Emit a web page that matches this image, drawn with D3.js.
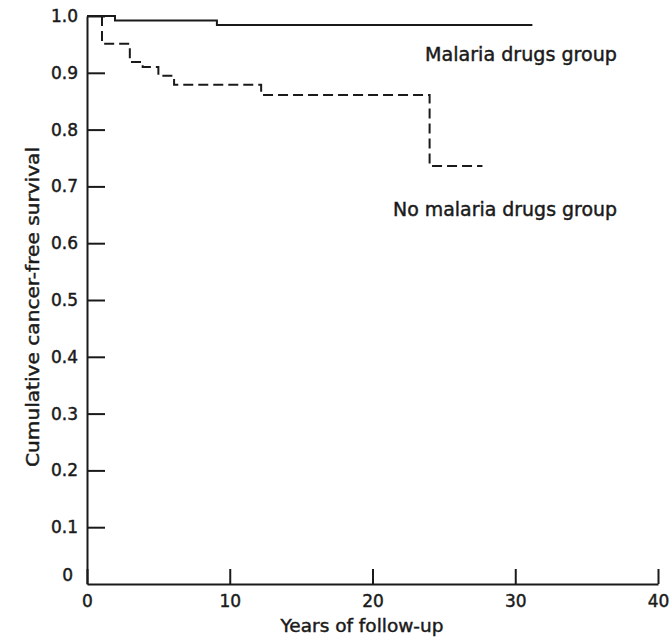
<!DOCTYPE html>
<html>
<head>
<meta charset="utf-8">
<script src="https://cdn.jsdelivr.net/npm/d3@7"></script>
<style>
  html, body { margin: 0; padding: 0; background: #fff; }
  svg { display: block; }
  text { font-family: "DejaVu Sans", "Liberation Sans", sans-serif; fill: #1a1a1a; stroke: #1a1a1a; stroke-width: 0.45px; }
</style>
</head>
<body>
<svg id="chart" width="671" height="639"></svg>
<script>
// Kaplan-Meier style step curves: time in years, cumulative cancer-free survival
const malariaYears = [0, 1.96, 9.1, 31.2];
const malariaSurvival = [1.0, 0.992, 0.984, 0.984];

const noMalariaYears = [0, 1.05, 3.0, 3.9, 5.0, 6.1, 12.2, 24.0, 27.7];
const noMalariaSurvival = [1.0, 0.951, 0.919, 0.910, 0.895, 0.879, 0.861, 0.736, 0.736];

const xTicks = [0, 10, 20, 30, 40];
const yTicks = [0, 0.1, 0.2, 0.3, 0.4, 0.5, 0.6, 0.7, 0.8, 0.9, 1.0];
const yTickLabels = ["0", "0.1", "0.2", "0.3", "0.4", "0.5", "0.6", "0.7", "0.8", "0.9", "1.0"];

const groupLabels = ["Malaria drugs group", "No malaria drugs group"];

const svg = d3.select("#chart");
const x = d3.scaleLinear().domain([0, 40]).range([87, 658]);
const y = d3.scaleLinear().domain([0, 1]).range([584, 16]);

const ink = "#1a1a1a";

// x axis with inward ticks
const xAxis = svg.append("g")
  .attr("transform", `translate(0,${y(0)})`)
  .call(d3.axisBottom(x).tickValues(xTicks).tickSize(-15).tickSizeOuter(0).tickPadding(11)
    .tickFormat(d3.format("d")));
xAxis.selectAll("text").style("font-size", "17px");

// y axis with inward ticks
const yAxis = svg.append("g")
  .attr("transform", `translate(${x(0)},0)`)
  .call(d3.axisLeft(y).tickValues(yTicks).tickSize(-18).tickSizeOuter(0).tickPadding(9)
    .tickFormat((d, i) => yTickLabels[i]));
yAxis.selectAll("text").style("font-size", "17px");
yAxis.selectAll(".tick").filter(d => d === 0).select("text")
  .attr("x", -14).attr("dy", "-0.2em");
yAxis.selectAll(".tick").filter(d => d === 0).select("line").remove();

svg.selectAll(".domain, .tick line")
  .attr("stroke", ink).attr("stroke-width", 2);

// survival curves
const step = d3.line()
  .x(d => x(d[0]))
  .y(d => y(d[1]))
  .curve(d3.curveStepAfter);

svg.append("path")
  .datum(d3.zip(noMalariaYears, noMalariaSurvival))
  .attr("d", step)
  .attr("fill", "none")
  .attr("stroke", ink)
  .attr("stroke-width", 2)
  .attr("stroke-dasharray", "10,5");

svg.append("path")
  .datum(d3.zip(malariaYears, malariaSurvival))
  .attr("d", step)
  .attr("fill", "none")
  .attr("stroke", ink)
  .attr("stroke-width", 2);

// group labels
svg.append("text")
  .attr("x", 425).attr("y", 61)
  .attr("textLength", 192).attr("lengthAdjust", "spacingAndGlyphs")
  .style("font-size", "19px")
  .text(groupLabels[0]);

svg.append("text")
  .attr("x", 393).attr("y", 216)
  .attr("textLength", 224).attr("lengthAdjust", "spacingAndGlyphs")
  .style("font-size", "19px")
  .text(groupLabels[1]);

// axis titles
svg.append("text")
  .attr("x", 362).attr("y", 632)
  .attr("text-anchor", "middle")
  .attr("textLength", 163).attr("lengthAdjust", "spacingAndGlyphs")
  .style("font-size", "18px")
  .text("Years of follow-up");

svg.append("text")
  .attr("transform", "translate(39,307) rotate(-90)")
  .attr("text-anchor", "middle")
  .attr("textLength", 320).attr("lengthAdjust", "spacingAndGlyphs")
  .style("font-size", "18px")
  .text("Cumulative cancer-free survival");
</script>
</body>
</html>
